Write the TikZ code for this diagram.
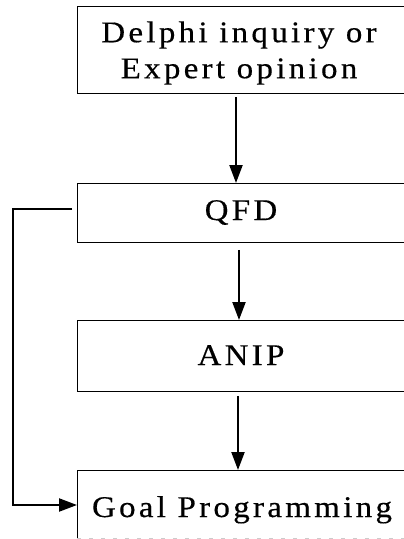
\documentclass[tikz,border=0pt]{standalone}
\usepackage{fontspec}
\setmainfont{Liberation Serif}[LetterSpace=11,FakeStretch=1.1,FakeBold=0.4]
\usetikzlibrary{arrows.meta}
\begin{document}
\begin{tikzpicture}[x=1pt,y=-1pt,
  stagebox/.style={draw,line width=0.9pt,inner sep=0pt,anchor=north west},
  lbl/.style={inner sep=0pt,font=\fontsize{30}{36}\selectfont,align=center},
  flow/.style={line width=2.2pt,-{Triangle[length=18pt,width=13pt]}}]
\useasboundingbox (0,0) rectangle (404,539);
\clip (0,0) rectangle (404,539);
\node[stagebox,minimum width=326.5pt,minimum height=87pt] (d) at (77,6) {};
\node[stagebox,minimum width=330pt,minimum height=59pt] (q) at (77,183) {};
\node[stagebox,minimum width=330pt,minimum height=71pt] (a) at (77,320) {};
\node[inner sep=0pt,anchor=north west,minimum width=330pt,minimum height=68pt] (g) at (77,470) {};
\draw[line width=0.9pt] (g.south west) -- (g.north west) -- (g.north east);
\draw[line width=0.7pt,gray!40,dash pattern=on 4pt off 8pt] (g.south west) -- (g.south east);
\node[lbl] (dt) at (239,53) {Delphi inquiry or\\Expert opinion};
\node[lbl,anchor=base] (qt) at (241,220) {QFD};
\node[lbl,anchor=base] (at) at (241,365) {ANIP};
\node[lbl,anchor=base] (gt) at (242,517) {Goal Programming};
\coordinate (c1) at (236,0);
\coordinate (c2) at (239,0);
\coordinate (c3) at (238,0);
\draw[flow] ([yshift=-3pt]d.south -| c1) -- (q.north -| c1);
\draw[flow] ([yshift=-7pt]q.south -| c2) -- (a.north -| c2);
\draw[flow] ([yshift=-4pt]a.south -| c3) -- (g.north -| c3);
\coordinate (fb1) at (72,209);
\coordinate (fb2) at (13,209);
\coordinate (fb3) at (13,505);
\draw[flow] (fb1) -- (fb2) -- (fb3) -- (g.west |- fb3);
\end{tikzpicture}
\end{document}
